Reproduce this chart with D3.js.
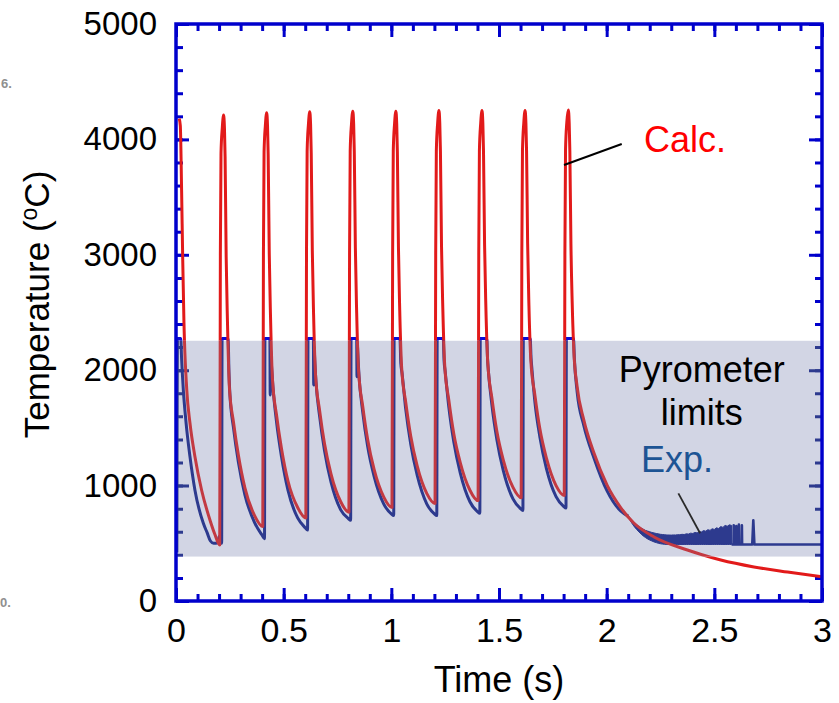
<!DOCTYPE html>
<html>
<head>
<meta charset="utf-8">
<script src="https://cdn.jsdelivr.net/npm/d3@7"></script>
<style>
  body { margin: 0; background: #fff; }
  svg { display: block; }
  text { font-family: "Liberation Sans", Arial, Helvetica, sans-serif; }
</style>
</head>
<body>
<svg id="chart" width="839" height="703"></svg>
<script>
// ---- axis ticks -------------------------------------------------------
const xTickValues = [0, 0.5, 1, 1.5, 2, 2.5, 3];
const xTickLabels = ["0", "0.5", "1", "1.5", "2", "2.5", "3"];
const yTickValues = [0, 1000, 2000, 3000, 4000, 5000];
const yTickLabels = ["0", "1000", "2000", "3000", "4000", "5000"];

// pyrometer measuring range (°C)
const pyrometerLimits = [385, 2255];

// ---- calculated surface temperature [time (s), T (°C)] -----------------
const calcCurve = [
  [0.015, 4180], [0.020, 4120], [0.026, 3560], [0.031, 2980], [0.037, 2410], [0.050, 1830],
  [0.065, 1540], [0.088, 1250], [0.119, 960], [0.158, 700], [0.180, 580],
  // pulse 1
  [0.203, 485], [0.206, 3000], [0.209, 3880], [0.215, 4100], [0.221, 4211], [0.225, 4100],
  [0.228, 3850], [0.233, 2980], [0.239, 2420], [0.248, 1850], [0.267, 1550], [0.290, 1260],
  [0.320, 980], [0.365, 740],
  // pulse 2
  [0.403, 645], [0.406, 3000], [0.409, 3890], [0.415, 4120], [0.421, 4231], [0.425, 4120],
  [0.428, 3870], [0.433, 3020], [0.439, 2460], [0.448, 1920], [0.467, 1610], [0.490, 1320],
  [0.520, 1040], [0.565, 810],
  // pulse 3
  [0.603, 720], [0.606, 3000], [0.609, 3900], [0.615, 4130], [0.621, 4240], [0.625, 4130],
  [0.628, 3880], [0.633, 3040], [0.639, 2480], [0.648, 1960], [0.667, 1650], [0.690, 1360],
  [0.720, 1100], [0.765, 860],
  // pulse 4
  [0.803, 770], [0.806, 3000], [0.809, 3900], [0.815, 4135], [0.821, 4245], [0.825, 4135],
  [0.828, 3890], [0.833, 3060], [0.839, 2500], [0.848, 1990], [0.867, 1690], [0.890, 1400],
  [0.920, 1140], [0.965, 900],
  // pulse 5
  [1.003, 810], [1.006, 3000], [1.009, 3900], [1.015, 4135], [1.021, 4245], [1.025, 4135],
  [1.028, 3890], [1.033, 3070], [1.039, 2520], [1.048, 2020], [1.067, 1720], [1.090, 1430],
  [1.120, 1170], [1.165, 930],
  // pulse 6
  [1.203, 845], [1.206, 3000], [1.209, 3900], [1.215, 4140], [1.221, 4250], [1.225, 4140],
  [1.228, 3900], [1.233, 3080], [1.239, 2540], [1.248, 2040], [1.267, 1740], [1.290, 1450],
  [1.320, 1200], [1.365, 960],
  // pulse 7
  [1.403, 870], [1.406, 3000], [1.409, 3900], [1.415, 4140], [1.421, 4250], [1.425, 4140],
  [1.428, 3900], [1.433, 3090], [1.439, 2550], [1.448, 2060], [1.467, 1760], [1.490, 1470],
  [1.520, 1220], [1.565, 985],
  // pulse 8
  [1.603, 895], [1.606, 3000], [1.609, 3900], [1.615, 4140], [1.621, 4250], [1.625, 4140],
  [1.628, 3900], [1.633, 3100], [1.639, 2560], [1.648, 2080], [1.667, 1780], [1.690, 1490],
  [1.720, 1240], [1.765, 1000],
  // pulse 9 and final cooling
  [1.803, 915], [1.806, 3000], [1.809, 3910], [1.815, 4150], [1.822, 4255], [1.826, 4140],
  [1.829, 3900], [1.834, 3100], [1.840, 2580], [1.848, 2150], [1.863, 1855], [1.894, 1568],
  [1.941, 1282], [2.003, 1000], [2.065, 810], [2.126, 676], [2.220, 555], [2.375, 442],
  [2.530, 355], [2.684, 295], [2.840, 251], [3.000, 210]
];

// ---- pyrometer reading [time (s), T (°C)], saturating at the upper limit ----
const expCurve = [
  [0.004, 420], [0.007, 2275], [0.022, 2275], [0.026, 2100], [0.034, 1830], [0.047, 1540],
  [0.065, 1250], [0.088, 960], [0.127, 673], [0.145, 590], [0.160, 520], [0.175, 500],
  [0.195, 505], [0.200, 560], [0.204, 500], [0.209, 510],
  // pulse 1
  [0.212, 500], [0.214, 2275], [0.242, 2275], [0.246, 1980], [0.250, 1800], [0.267, 1500],
  [0.290, 1200], [0.320, 920], [0.365, 680], [0.400, 570], [0.411, 540],
  // pulse 2
  [0.413, 2275], [0.436, 2275], [0.4375, 1785], [0.439, 2180], [0.443, 2050], [0.450, 1860],
  [0.467, 1550], [0.490, 1250], [0.520, 960], [0.565, 720], [0.600, 635], [0.611, 615],
  // pulse 3
  [0.613, 2275], [0.638, 2275], [0.6395, 1872], [0.641, 2200], [0.645, 2060], [0.650, 1900],
  [0.667, 1600], [0.690, 1300], [0.720, 1030], [0.765, 790], [0.800, 715], [0.811, 700],
  // pulse 4
  [0.813, 2275], [0.839, 2275], [0.8405, 1944], [0.842, 2220], [0.846, 2080], [0.850, 1950],
  [0.867, 1640], [0.890, 1340], [0.920, 1080], [0.965, 840], [1.000, 755], [1.011, 740],
  // pulse 5
  [1.013, 2275], [1.040, 2275], [1.044, 2060], [1.050, 1970], [1.067, 1660], [1.090, 1360],
  [1.120, 1090], [1.165, 840], [1.200, 755], [1.211, 740],
  // pulse 6
  [1.213, 2275], [1.241, 2275], [1.245, 2080], [1.250, 1990], [1.267, 1680], [1.290, 1380],
  [1.320, 1110], [1.365, 860], [1.400, 775], [1.411, 760],
  // pulse 7
  [1.413, 2275], [1.443, 2275], [1.447, 2090], [1.450, 2010], [1.467, 1700], [1.490, 1400],
  [1.520, 1130], [1.565, 885], [1.600, 800], [1.611, 785],
  // pulse 8
  [1.613, 2275], [1.645, 2275], [1.649, 2100], [1.652, 2030], [1.667, 1720], [1.690, 1420],
  [1.720, 1150], [1.765, 905], [1.800, 820], [1.811, 805],
  // pulse 9
  [1.813, 2275], [1.846, 2275], [1.850, 2100], [1.863, 1810], [1.894, 1520], [1.941, 1240],
  [2.003, 950], [2.065, 780], [2.100, 735]
];

// noisy signal near the lower limit: time, upper and lower envelope (°C)
const expNoiseTime = [2.10, 2.11, 2.12, 2.13, 2.14, 2.15, 2.16, 2.17, 2.18, 2.19,
  2.20, 2.21, 2.22, 2.23, 2.24, 2.25, 2.26, 2.27, 2.28, 2.29,
  2.30, 2.31, 2.32, 2.33, 2.34, 2.35, 2.36, 2.37, 2.38, 2.39,
  2.40, 2.41, 2.42, 2.43, 2.44, 2.45, 2.46, 2.47, 2.48, 2.49,
  2.50, 2.51, 2.52, 2.53, 2.54, 2.55, 2.56, 2.57, 2.58];
const expNoiseHigh = [740, 715, 690, 672, 660, 645, 632, 622, 612, 606,
  600, 594, 590, 585, 582, 578, 576, 574, 572, 572,
  571, 573, 572, 575, 574, 578, 576, 582, 580, 588,
  585, 594, 590, 602, 598, 610, 605, 618, 612, 626,
  620, 634, 628, 645, 638, 655, 648, 660, 655];
const expNoiseLow = [730, 695, 665, 640, 618, 598, 580, 563, 550, 538,
  528, 520, 512, 506, 500, 496, 493, 491, 490, 490,
  490, 490, 490, 490, 490, 490, 490, 490, 490, 490,
  490, 490, 490, 490, 490, 490, 490, 490, 490, 490,
  490, 490, 490, 490, 490, 490, 490, 490, 490];

// reading after the noisy stretch: isolated spikes on the floor value
const expTail = [
  [2.580, 490], [2.589, 490], [2.590, 655], [2.591, 490], [2.601, 490], [2.602, 650],
  [2.603, 490], [2.613, 490], [2.614, 662], [2.615, 490], [2.627, 490], [2.628, 655],
  [2.629, 490], [2.676, 490], [2.681, 700], [2.686, 490], [3.000, 490]
];

// ---- layout -----------------------------------------------------------
const W = 839, H = 703;
const margin = { top: 24, right: 17, bottom: 102, left: 176 };
const x = d3.scaleLinear().domain([0, 3]).range([margin.left, W - margin.right]);
const y = d3.scaleLinear().domain([0, 5000]).range([H - margin.bottom, margin.top]);

const svg = d3.select("#chart");
const defs = svg.append("defs");

const bandTop = y(pyrometerLimits[1]);
const bandBottom = y(pyrometerLimits[0]);

defs.append("clipPath").attr("id", "plotArea").append("rect")
  .attr("x", x(0)).attr("y", y(5000))
  .attr("width", x(3) - x(0)).attr("height", y(0) - y(5000));

defs.append("clipPath").attr("id", "inBand").append("rect")
  .attr("x", x(0)).attr("y", bandTop)
  .attr("width", x(3) - x(0)).attr("height", bandBottom - bandTop);

const outClip = defs.append("clipPath").attr("id", "outBand");
outClip.append("rect").attr("x", 0).attr("y", 0).attr("width", W).attr("height", bandTop);
outClip.append("rect").attr("x", 0).attr("y", bandBottom).attr("width", W).attr("height", H - bandBottom);

// pyrometer range band
svg.append("rect")
  .attr("x", x(0) + 2).attr("y", bandTop)
  .attr("width", x(3) - x(0) - 4).attr("height", bandBottom - bandTop)
  .attr("fill", "#d2d5e4");

const lineGen = d3.line().x(d => x(d[0])).y(d => y(d[1])).curve(d3.curveMonotoneX);
const tailGen = d3.line().x(d => x(d[0])).y(d => y(d[1]));
const noiseArea = d3.area()
  .x((d, i) => x(expNoiseTime[i]))
  .y0((d, i) => y(expNoiseLow[i]))
  .y1((d, i) => y(expNoiseHigh[i]));

// y-axis tick marks (left and right), minor every 200, major every 1000
function yTickMarks(g, color) {
  const minor = y.ticks(25);
  const left = d3.axisLeft(y).tickValues(minor).tickSize(-7).tickFormat("");
  const leftMaj = d3.axisLeft(y).tickValues(yTickValues).tickSize(-13).tickFormat("");
  const right = d3.axisRight(y).tickValues(minor).tickSize(-7).tickFormat("");
  const rightMaj = d3.axisRight(y).tickValues(yTickValues).tickSize(-13).tickFormat("");
  [[left, x(0)], [leftMaj, x(0)], [right, x(3)], [rightMaj, x(3)]].forEach(([ax, px]) => {
    const a = g.append("g").attr("transform", `translate(${px},0)`).call(ax);
    a.select(".domain").remove();
    a.selectAll("line").attr("stroke", color).attr("stroke-width", 3);
  });
}

// curves and ticks are drawn twice: plain above/below the band, tinted inside it
function drawLayer(clipId, pal) {
  const g = svg.append("g").attr("clip-path", `url(#${clipId})`);
  yTickMarks(g, pal.tick);
  const p = g.append("g").attr("clip-path", "url(#plotArea)");
  p.append("path").datum(expNoiseTime).attr("d", noiseArea)
    .attr("fill", pal.exp).attr("stroke", pal.exp).attr("stroke-width", 1);
  p.append("path").datum(expCurve).attr("d", lineGen)
    .attr("fill", "none").attr("stroke", pal.exp).attr("stroke-width", 3)
    .attr("stroke-linejoin", "round");
  p.append("path").datum(expTail).attr("d", tailGen)
    .attr("fill", "none").attr("stroke", pal.exp).attr("stroke-width", 2.6)
    .attr("stroke-linejoin", "round");
  p.append("path").datum(calcCurve).attr("d", lineGen)
    .attr("fill", "none").attr("stroke", pal.calc).attr("stroke-width", 3)
    .attr("stroke-linejoin", "round");
}
drawLayer("outBand", { tick: "#0000cc", exp: "#0b0bd6", calc: "#e21a1a" });
drawLayer("inBand", { tick: "#2d3a8e", exp: "#2d3a8e", calc: "#c33a42" });

// x-axis tick marks, bottom and top
(function () {
  const minor = x.ticks(30);
  const defsAx = [
    [d3.axisBottom(x).tickValues(minor).tickSize(-7), y(0)],
    [d3.axisBottom(x).tickValues(xTickValues).tickSize(-13), y(0)],
    [d3.axisTop(x).tickValues(minor).tickSize(-7), y(5000)],
    [d3.axisTop(x).tickValues(xTickValues).tickSize(-13), y(5000)]
  ];
  defsAx.forEach(([ax, py]) => {
    const a = svg.append("g").attr("transform", `translate(0,${py})`).call(ax.tickFormat(""));
    a.select(".domain").remove();
    a.selectAll("line").attr("stroke", "#0000cc").attr("stroke-width", 3);
  });
})();

// tick labels
const xLab = svg.append("g").attr("transform", `translate(0,${y(0)})`)
  .call(d3.axisBottom(x).tickValues(xTickValues).tickSize(0).tickPadding(17)
    .tickFormat((d, i) => xTickLabels[i]));
xLab.select(".domain").remove();
xLab.selectAll("text").attr("font-size", 34).attr("fill", "#000")
  .style("font-family", "'Liberation Sans', Arial, sans-serif");

const yLab = svg.append("g").attr("transform", `translate(${x(0)},0)`)
  .call(d3.axisLeft(y).tickValues(yTickValues).tickSize(0).tickPadding(19)
    .tickFormat((d, i) => yTickLabels[i]));
yLab.select(".domain").remove();
yLab.selectAll("text").attr("font-size", 33).attr("fill", "#000")
  .style("font-family", "'Liberation Sans', Arial, sans-serif");

// axis titles
svg.append("text")
  .attr("x", (x(0) + x(3)) / 2).attr("y", 692)
  .attr("text-anchor", "middle").attr("font-size", 36).attr("fill", "#000")
  .text("Time (s)");

const yTitle = svg.append("text")
  .attr("transform", `translate(49,${(y(0) + y(5000)) / 2 - 8}) rotate(-90)`)
  .attr("text-anchor", "middle").attr("font-size", 35).attr("fill", "#000");
yTitle.append("tspan").text("Temperature (");
yTitle.append("tspan").attr("font-size", 23).attr("dy", -12).text("o");
yTitle.append("tspan").attr("dy", 12).text("C)");

// annotations
svg.append("line")
  .attr("x1", x(1.802)).attr("y1", y(3778)).attr("x2", x(2.070)).attr("y2", y(3960))
  .attr("stroke", "#000").attr("stroke-width", 2);
svg.append("text").attr("x", x(2.364)).attr("y", y(3891))
  .attr("text-anchor", "middle").attr("font-size", 36).attr("fill", "#ff0000")
  .text("Calc.");

svg.append("text").attr("x", x(2.442)).attr("y", y(1900))
  .attr("text-anchor", "middle").attr("font-size", 36).attr("fill", "#000")
  .text("Pyrometer");
svg.append("text").attr("x", x(2.442)).attr("y", y(1525))
  .attr("text-anchor", "middle").attr("font-size", 36).attr("fill", "#000")
  .text("limits");
svg.append("text").attr("x", x(2.327)).attr("y", y(1120))
  .attr("text-anchor", "middle").attr("font-size", 36).attr("fill", "#1d5494")
  .text("Exp.");
svg.append("line")
  .attr("x1", x(2.333)).attr("y1", y(933)).attr("x2", x(2.434)).attr("y2", y(587))
  .attr("stroke", "#2a2a2a").attr("stroke-width", 1.8);

// frame
svg.append("rect")
  .attr("x", x(0)).attr("y", y(5000))
  .attr("width", x(3) - x(0)).attr("height", y(0) - y(5000))
  .attr("fill", "none").attr("stroke", "#0000cc").attr("stroke-width", 3.5);

// faint marks at the left margin
svg.append("text").attr("x", 1).attr("y", 88).attr("font-size", 13)
  .attr("font-weight", "bold").attr("fill", "#909090").text("6.");
svg.append("text").attr("x", 0).attr("y", 607).attr("font-size", 13)
  .attr("font-weight", "bold").attr("fill", "#909090").text("0.");
</script>
</body>
</html>
